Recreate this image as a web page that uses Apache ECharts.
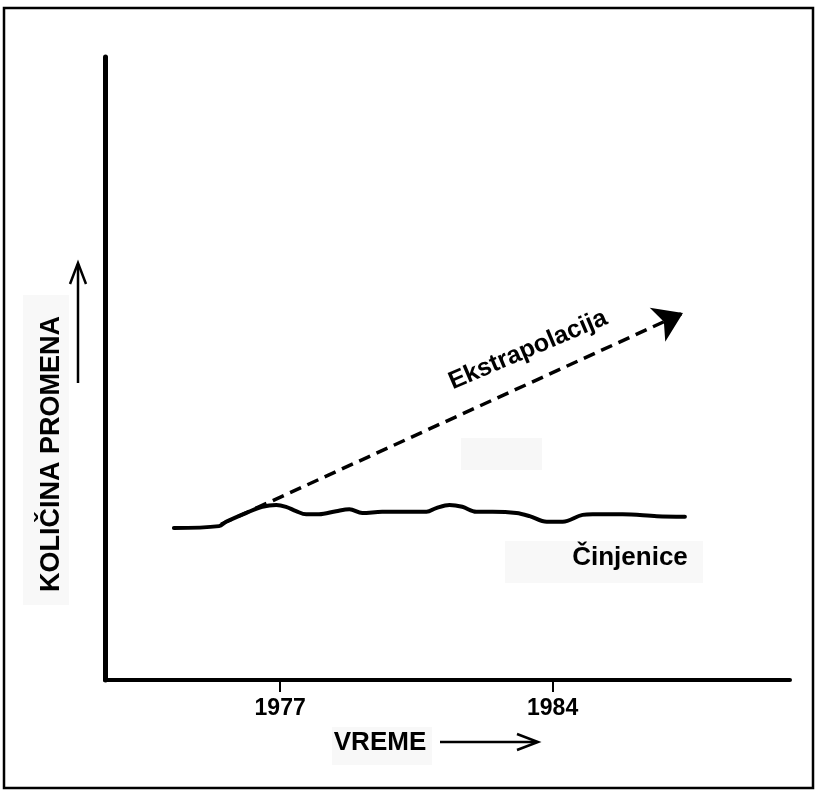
<!DOCTYPE html>
<html>
<head>
<meta charset="utf-8">
<script src="https://cdn.jsdelivr.net/npm/echarts@6/dist/echarts.min.js"></script>
<style>
html,body{margin:0;padding:0;background:#fff;}
#chart{width:817px;height:792px;}
</style>
</head>
<body>
<div id="chart"></div>
<script>
// ---- data ----
const tickYears = [1977, 1984];
const tickLabels = ['1977', '1984'];
const factYears = [1974.27,1975.43,1975.61,1976.12,1976.54,1976.90,1977.15,1977.41,1977.67,1978.00,1978.44,1978.78,1979.11,1979.62,1980.76,1981.01,1981.35,1981.68,1982.04,1982.46,1983.07,1983.41,1983.85,1984.26,1984.77,1985.03,1985.80,1986.68,1987.40];
const factValues = [24.4,24.7,25.4,26.8,27.8,28.1,27.8,27.1,26.6,26.6,27.1,27.4,26.8,27.0,27.0,27.6,28.1,27.8,27.0,27.0,26.8,26.3,25.4,25.4,26.5,26.6,26.6,26.3,26.2];
const extraYears = [1975.48, 1987.35];
const extraValues = [25.0, 58.9];
const factLabel = 'Činjenice';
const extraLabel = 'Ekstrapolacija';
const xName = 'VREME';
const yName = 'KOLIČINA PROMENA';

const FONT = '"Liberation Sans", Arial, Helvetica, sans-serif';
const chart = echarts.init(document.getElementById('chart'), null, {renderer: 'canvas'});

const factData = factYears.map((x, i) => [x, factValues[i]]);
const extraData = extraYears.map((x, i) => [x, extraValues[i]]);

chart.setOption({
  animation: false,
  backgroundColor: '#ffffff',
  grid: {left: 105, right: 27, top: 57, bottom: 112, containLabel: false},
  xAxis: {
    type: 'value', min: 1972.5, max: 1990.1,
    splitLine: {show: false},
    axisLine: {show: true, lineStyle: {color: '#000', width: 4}},
    axisTick: {show: true, customValues: tickYears, length: 12, inside: false, lineStyle: {color: '#000', width: 2}},
    axisLabel: {show: true, customValues: tickYears, margin: 17,
      formatter: v => tickLabels[tickYears.indexOf(Math.round(v))] || '',
      color: '#000', fontSize: 23, fontWeight: 'bold', fontFamily: FONT}
  },
  yAxis: {
    type: 'value', min: 0, max: 100,
    splitLine: {show: false},
    axisLine: {show: true, lineStyle: {color: '#000', width: 5}},
    axisTick: {show: false},
    axisLabel: {show: false}
  },
  series: [
    {
      type: 'line', data: extraData, symbol: 'none', z: 2,
      lineStyle: {color: '#000', width: 3.5, type: [12, 7]},
      markLine: {
        silent: true,
        symbol: ['none', 'arrow'],
        symbolSize: 28,
        label: {show: false},
        lineStyle: {color: '#000', width: 0, opacity: 1},
        itemStyle: {color: '#000'},
        data: [[{coord: [extraYears[0], extraValues[0]]}, {coord: [extraYears[1], extraValues[1]]}]]
      }
    },
    {
      type: 'line', data: factData, smooth: 0.35, symbol: 'none',
      lineStyle: {color: '#000', width: 4, cap: 'round', join: 'round'}, z: 3
    }
  ],
  graphic: [
    // faint scan boxes
    {type: 'rect', shape: {x: 23, y: 295, width: 46, height: 310}, style: {fill: '#f8f8f8'}, z: -10},
    {type: 'rect', shape: {x: 461, y: 438, width: 81, height: 32}, style: {fill: '#f7f7f7'}, z: -10},
    {type: 'rect', shape: {x: 505, y: 541, width: 198, height: 42}, style: {fill: '#f8f8f8'}, z: -10},
    {type: 'rect', shape: {x: 332, y: 727, width: 100, height: 38}, style: {fill: '#f8f8f8'}, z: -10},
    // frame
    {type: 'rect', shape: {x: 4, y: 8, width: 809, height: 780}, style: {fill: null, stroke: '#000', lineWidth: 2.5}, z: 10},
    // labels
    {type: 'text', x: 52, y: 454, rotation: Math.PI / 2,
      style: {text: yName, font: 'bold 27px ' + FONT, fill: '#000', align: 'center', verticalAlign: 'middle'}},
    {type: 'text', x: 380, y: 743,
      style: {text: xName, font: 'bold 26px ' + FONT, fill: '#000', align: 'center', verticalAlign: 'middle'}},
    {type: 'text', x: 630, y: 558,
      style: {text: factLabel, font: 'bold 26px ' + FONT, fill: '#000', align: 'center', verticalAlign: 'middle'}},
    {type: 'text', x: 528, y: 350, rotation: 23 * Math.PI / 180,
      style: {text: extraLabel, font: 'bold 25px ' + FONT, fill: '#000', align: 'center', verticalAlign: 'middle'}},
    // arrows beside names
    {type: 'polyline', shape: {points: [[78, 383], [78, 264]]}, style: {stroke: '#000', lineWidth: 2.5, fill: null}},
    {type: 'polyline', shape: {points: [[70, 284], [78, 263], [86, 284]]}, style: {stroke: '#000', lineWidth: 2.5, fill: null}},
    {type: 'polyline', shape: {points: [[440, 742], [536, 742]]}, style: {stroke: '#000', lineWidth: 2.5, fill: null}},
    {type: 'polyline', shape: {points: [[517, 734], [538, 742], [517, 750]]}, style: {stroke: '#000', lineWidth: 2.5, fill: null}}
  ]
});
</script>
</body>
</html>
